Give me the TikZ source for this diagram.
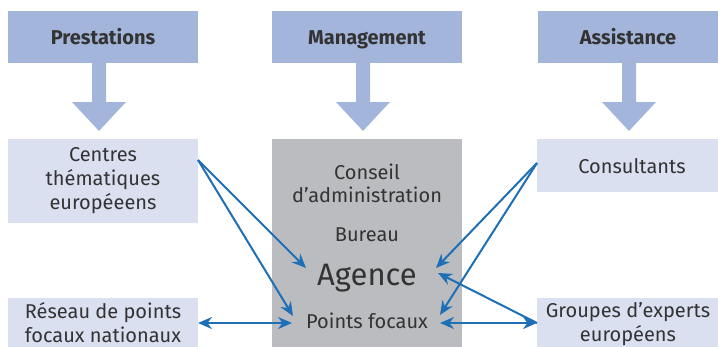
\documentclass[tikz,border=0pt]{standalone}
\usepackage{fontspec}
\setmainfont{Fira Sans}
\usetikzlibrary{arrows.meta}
\definecolor{hdr}{HTML}{A3B5DA}
\definecolor{lite}{HTML}{DAE0F0}
\definecolor{grayb}{HTML}{BBBCC0}
\definecolor{conn}{HTML}{1F6FB7}
\definecolor{txt}{HTML}{333333}
\tikzset{
  hbox/.style={fill=hdr, minimum height=52pt, inner sep=0pt, text height=14pt, text depth=4pt, font=\fontsize{20}{24}\selectfont\bfseries, text=txt},
  lbox/.style={inner sep=0pt, font=\fontsize{20}{24}\selectfont, text=txt, align=center},
  gtxt/.style={font=\fontsize{20}{23}\selectfont, text=txt, align=center, inner sep=1pt},
  conn/.style={draw=conn, line width=2pt, -{Stealth[length=14pt,width=12pt]}},
  dconn/.style={draw=conn, line width=2pt, {Stealth[length=14pt,width=12pt]}-{Stealth[length=14pt,width=12pt]}},
}
\begin{document}
\begin{tikzpicture}[x=1pt,y=-1pt]
\useasboundingbox (0,0) rectangle (718,346);
% header boxes
\fill[hdr] (8,11) rectangle (198,63);
\fill[hdr] (272,11) rectangle (462,63);
\fill[hdr] (538,11) rectangle (718,63);
\node[hbox, fill=none] (pre) at (103,39) {Prestations};
\node[hbox, fill=none] (man) at (367,39) {Management};
\node[hbox, fill=none] (ass) at (628,39) {Assistance};
% big down arrows
\foreach \c in {99,363,629}{
  \fill[hdr] (\c-7,63) -- (\c+7,63) -- (\c+7,102) -- (\c+27,102) -- (\c,131) -- (\c-27,102) -- (\c-7,102) -- cycle;
}
% gray box
\fill[grayb] (272,139) rectangle (462,350);
% light boxes
\fill[lite] (8,139) rectangle (198,223);
\fill[lite] (8,298) rectangle (198,350);
\fill[lite] (537,139) rectangle (720,192);
\fill[lite] (537,298) rectangle (720,350);
\node[lbox] (cen) at (103,181) {Centres\\thématiques\\européeens};
\node[lbox] (res) at (103,323) {Réseau de points\\focaux nationaux};
\node[lbox] (con) at (632,166) {Consultants};
\node[lbox] (gro) at (628,324) {Groupes d’experts\\européens};
\node[gtxt] (cons) at (367,183) {Conseil\\d’administration};
\node[gtxt] (bur) at (367,235) {Bureau};
\node[gtxt, font=\fontsize{31}{34}\selectfont] (age) at (367,278) {Agence};
\node[gtxt] (pf) at (367,321) {Points focaux};
% connector anchors
\coordinate (cenR) at (198,160);
\coordinate (conL) at (537,163);
\coordinate (groL) at (537,323);
\coordinate (resR) at (198,323);
\coordinate (ageL) at (306,268);
\coordinate (ageR) at (436,268);
\coordinate (ageR2) at (438,273);
\coordinate (pfL) at (293,316);
\coordinate (pfR) at (440,315);
\coordinate (pfL2) at (292,323);
\coordinate (pfR2) at (440,323);
\draw[conn] (cenR) -- (ageL);
\draw[conn] (cenR) -- (pfL);
\draw[conn] (conL) -- (ageR);
\draw[conn] (conL) -- (pfR);
\draw[conn] (groL) -- (ageR2);
\draw[dconn] (resR) -- (pfL2);
\draw[dconn] (pfR2) -- (groL);
\end{tikzpicture}
\end{document}
